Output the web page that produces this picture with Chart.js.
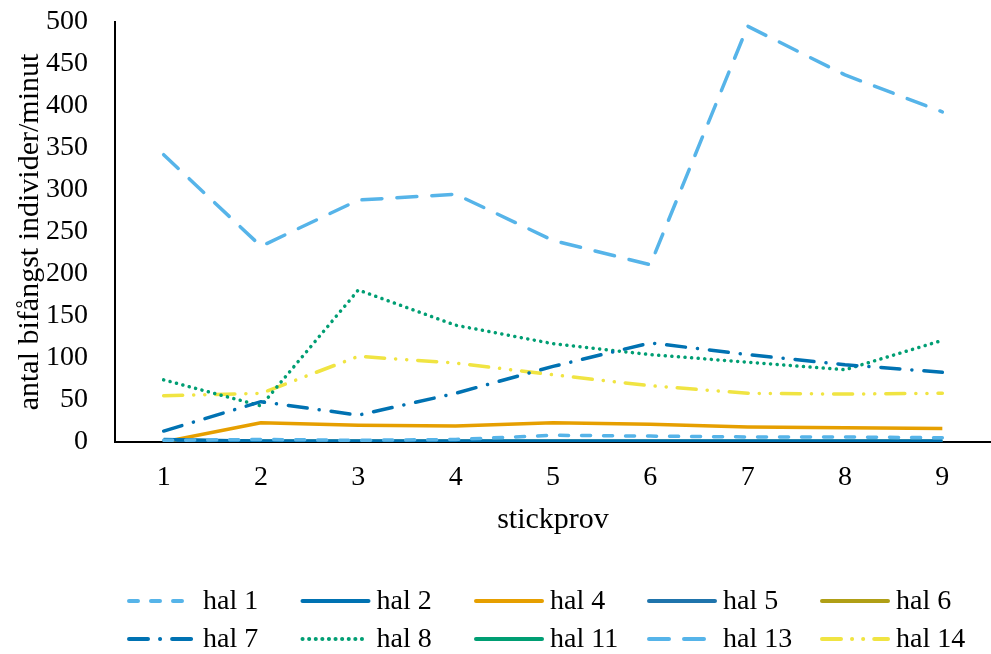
<!DOCTYPE html>
<html>
<head>
<meta charset="utf-8">
<script src="https://cdn.jsdelivr.net/npm/chart.js@4/dist/chart.umd.min.js"></script>
<style>
  html, body { margin: 0; padding: 0; background: #fff; }
  #wrap { width: 991px; height: 654px; }
</style>
</head>
<body>
<div id="wrap"><canvas id="c" width="991" height="654"></canvas></div>
<script>
// Sampling rounds (stickprov) on the x axis
const stickprov = ['1', '2', '3', '4', '5', '6', '7', '8', '9'];

// Bycatch, individuals per minute, per haul
const hal1  = [2, 3, 2, 3, 8, 7, 6, 6, 5];
const hal2  = [3, 1, 1, 1, 1, 1, 1, 1, 1];
const hal4  = [0, 23, 20, 19, 23, 21, 18, 17, 16];
const hal5  = [2, 1, 1, 1, 1, 1, 1, 1, 1];
const hal6  = [1, 0, 0, 0, 0, 0, 0, 0, 0];
const hal7  = [13, 48, 32, 58, 90, 118, 104, 92, 83];
const hal8  = [74, 43, 181, 139, 117, 104, 95, 86, 121];
const hal11 = [2, 1, 1, 1, 1, 1, 1, 1, 1];
const hal13 = [342, 233, 288, 295, 240, 211, 495, 437, 393];
const hal14 = [55, 58, 102, 94, 80, 67, 58, 57, 58];

const yTicks = [0, 50, 100, 150, 200, 250, 300, 350, 400, 450, 500];

const FONT = '"Liberation Serif", "Times New Roman", serif';

function line(label, data, color, dash) {
  return {
    label, data,
    borderColor: color,
    backgroundColor: color,
    borderWidth: 3.5,
    borderDash: dash || [],
    borderCapStyle: dash && dash.length ? 'round' : 'butt',
    borderJoinStyle: 'round',
    pointRadius: 0,
    pointHoverRadius: 0,
    pointStyle: 'line',
    tension: 0,
    fill: false
  };
}

const datasets = [
  line('hal 1',  hal1,  '#56B4E9', [9, 13]),
  line('hal 2',  hal2,  '#0072B2'),
  line('hal 4',  hal4,  '#E69F00'),
  line('hal 5',  hal5,  '#1F74AC'),
  line('hal 6',  hal6,  '#B09F16'),
  line('hal 7',  hal7,  '#0072B2', [19, 12, 0.1, 12]),
  line('hal 8',  hal8,  '#009E73', [0.1, 6.5]),
  line('hal 11', hal11, '#009E73'),
  line('hal 13', hal13, '#56B4E9', [20, 15]),
  line('hal 14', hal14, '#F0E442', [19, 11, 0.1, 11, 0.1, 11])
];

// Legend drawn as a 5-column grid below the axis
const gridLegend = {
  id: 'gridLegend',
  afterDraw(chart) {
    const ctx = chart.ctx;
    const items = chart.data.datasets;
    const colX = [127, 300.5, 474, 647, 820];
    const rowY = [601, 639];
    ctx.save();
    items.forEach((ds, i) => {
      const col = i % 5, row = Math.floor(i / 5);
      const x = colX[col], y = rowY[row];
      ctx.beginPath();
      ctx.strokeStyle = ds.borderColor;
      ctx.lineWidth = 4;
      ctx.lineCap = 'round';
      ctx.setLineDash(ds.borderDash);
      ctx.moveTo(x + 2, y);
      ctx.lineTo(x + 68, y);
      ctx.stroke();
      ctx.setLineDash([]);
      ctx.fillStyle = '#000';
      ctx.font = '28px ' + FONT;
      ctx.textBaseline = 'middle';
      ctx.textAlign = 'left';
      ctx.fillText(ds.label, x + 76, y + 1);
    });
    ctx.restore();
  }
};

new Chart(document.getElementById('c'), {
  type: 'line',
  data: { labels: stickprov, datasets },
  options: {
    responsive: false,
    animation: false,
    events: [],
    layout: { padding: { top: 22, right: 0, bottom: 100, left: 0 } },
    plugins: {
      legend: { display: false },
      tooltip: { enabled: false }
    },
    scales: {
      x: {
        offset: true,
        grid: { display: false, drawTicks: false },
        border: { display: true, color: '#000', width: 2 },
        ticks: { color: '#000', font: { family: FONT, size: 28 }, padding: 19, maxRotation: 0 },
        title: { display: true, text: 'stickprov', color: '#000', font: { family: FONT, size: 30 }, padding: { top: 0, bottom: 16 } },
        afterFit(scale) {
          scale.height = 112;
          scale.paddingLeft = 0;
          scale.paddingRight = 0;
        }
      },
      y: {
        min: 0, max: 500,
        afterBuildTicks(scale) { scale.ticks = yTicks.map(v => ({ value: v })); },
        grid: { display: false, drawTicks: false },
        border: { display: true, color: '#000', width: 2 },
        ticks: { color: '#000', font: { family: FONT, size: 28 }, padding: 27 },
        title: { display: true, text: 'antal bifångst individer/minut', color: '#000', font: { family: FONT, size: 30 }, padding: { top: 12, bottom: 0 } },
        afterFit(scale) {
          scale.width = 115;
          scale.paddingTop = 0;
          scale.paddingBottom = 0;
        }
      }
    }
  },
  plugins: [gridLegend]
});
</script>
</body>
</html>
